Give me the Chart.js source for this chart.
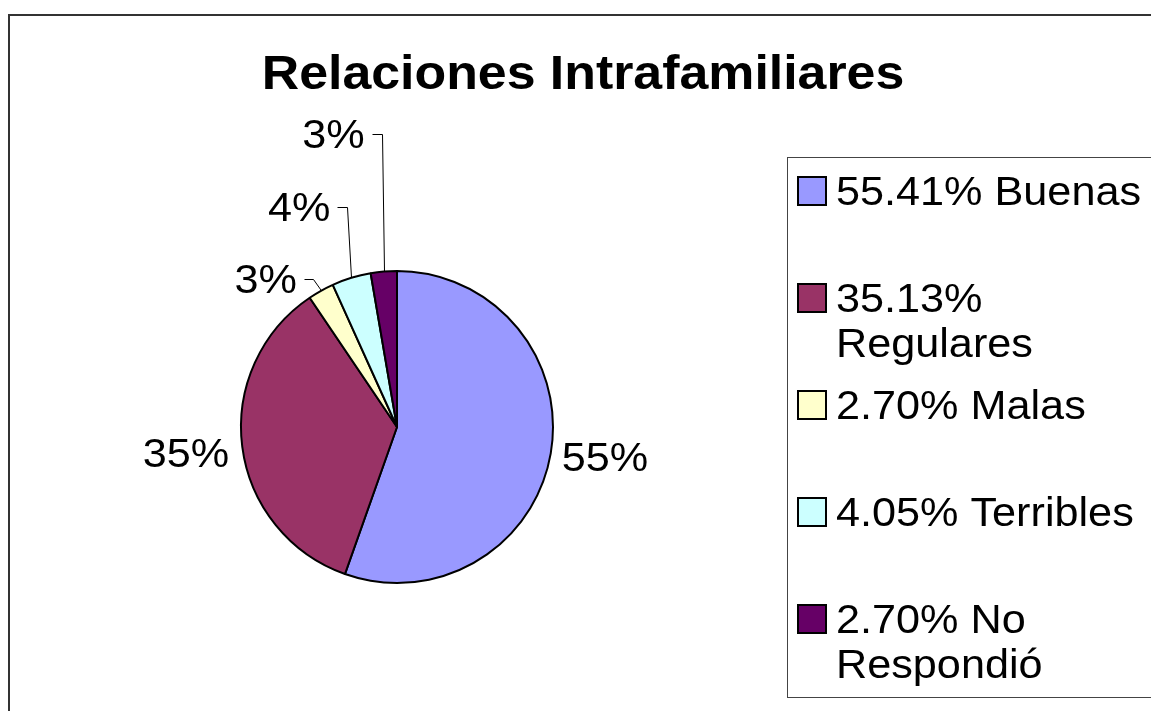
<!DOCTYPE html>
<html>
<head>
<meta charset="utf-8">
<script src="https://cdn.jsdelivr.net/npm/chart.js@4/dist/chart.umd.min.js"></script>
<style>
  html, body { margin: 0; padding: 0; background: #fff; }
  canvas { display: block; }
</style>
</head>
<body>
<canvas id="chart" width="1151" height="711"></canvas>
<script>
// data
var title = 'Relaciones Intrafamiliares';
var categories = ['Buenas', 'Regulares', 'Malas', 'Terribles', 'No Respondió'];
var percents = [55.41, 35.13, 2.70, 4.05, 2.70];
var sliceColors = ['#9999FF', '#993366', '#FFFFCC', '#CCFFFF', '#660066'];

var FONT = '"Liberation Sans", Arial, Helvetica, sans-serif';
var STRETCH = 1.08; // the original text is a bit wider than Arial

function stretchedText(ctx, txt, x, y, align) {
    ctx.save();
    ctx.translate(x, y);
    ctx.scale(STRETCH, 1);
    ctx.textAlign = align || 'left';
    ctx.textBaseline = 'alphabetic';
    ctx.fillText(txt, 0, 0);
    ctx.restore();
}

// frame, title, data labels and legend box (Excel style)
var excelDecor = {
    id: 'excelDecor',
    beforeDraw: function (chart) {
        var ctx = chart.ctx;
        ctx.save();
        ctx.fillStyle = '#fff';
        ctx.fillRect(0, 0, chart.width, chart.height);
        ctx.strokeStyle = '#333';
        ctx.lineWidth = 2;
        ctx.strokeRect(9, 15, 3000, 3000);
        ctx.restore();
    },
    afterDraw: function (chart) {
        var ctx = chart.ctx;
        ctx.save();

        // title
        ctx.fillStyle = '#000';
        ctx.font = 'bold 48px ' + FONT;
        stretchedText(ctx, title, 583, 89, 'center');

        // data labels
        var meta = chart.getDatasetMeta(0);
        var vals = chart.data.datasets[0].data;
        // per slice: plain offset, or leader line elbow offset
        var placement = [
            { dx: 11, dy: 18, align: 'left' },
            { dx: -13, dy: 20, align: 'right' },
            { ex: -8, ey: -12, run: 9, align: 'right' },
            { ex: -4, ey: -71, run: 10, align: 'right' },
            { ex: -2, ey: -138, run: 10, align: 'right' }
        ];
        ctx.font = '40px ' + FONT;
        meta.data.forEach(function (arc, i) {
            var a = (arc.startAngle + arc.endAngle) / 2;
            var px = arc.x + Math.cos(a) * arc.outerRadius;
            var py = arc.y + Math.sin(a) * arc.outerRadius;
            var txt = Math.round(vals[i]) + '%';
            var p = placement[i];
            ctx.fillStyle = '#000';
            if (p.ex === undefined) {
                stretchedText(ctx, txt, px + p.dx, py + p.dy, p.align);
            } else {
                var ex = px + p.ex, ey = py + p.ey;
                ctx.strokeStyle = '#000';
                ctx.lineWidth = 1;
                ctx.beginPath();
                ctx.moveTo(Math.round(px) + 0.5, py);
                ctx.lineTo(Math.round(ex) + 0.5, Math.round(ey) + 0.5);
                ctx.lineTo(Math.round(ex - p.run) + 0.5, Math.round(ey) + 0.5);
                ctx.stroke();
                stretchedText(ctx, txt, ex - p.run - 7, ey + 14, p.align);
            }
        });

        // legend box
        ctx.strokeStyle = '#444';
        ctx.lineWidth = 1;
        ctx.strokeRect(787.5, 157.5, 3000, 540);

        var maxW = 310;
        var labels = chart.data.labels;
        labels.forEach(function (lab, i) {
            var txt = vals[i].toFixed(2) + '% ' + lab;
            var words = txt.split(' ');
            var lines = [], cur = '';
            words.forEach(function (w) {
                var test = cur ? cur + ' ' + w : w;
                if (cur && ctx.measureText(test).width * STRETCH > maxW) {
                    lines.push(cur);
                    cur = w;
                } else {
                    cur = test;
                }
            });
            lines.push(cur);
            var base = 205 + i * 107;
            ctx.fillStyle = chart.data.datasets[0].backgroundColor[i];
            ctx.fillRect(798, base - 28, 28, 28);
            ctx.strokeStyle = '#000';
            ctx.lineWidth = 2;
            ctx.strokeRect(798, base - 28, 28, 28);
            ctx.fillStyle = '#000';
            lines.forEach(function (ln, j) {
                stretchedText(ctx, ln, 836, base + j * 45, 'left');
            });
        });
        ctx.restore();
    }
};

new Chart(document.getElementById('chart'), {
    type: 'pie',
    data: {
        labels: categories,
        datasets: [{
            data: percents,
            backgroundColor: sliceColors,
            borderColor: '#000',
            borderWidth: 2
        }]
    },
    options: {
        responsive: false,
        animation: false,
        layout: { padding: { left: 240, top: 270, right: 597, bottom: 127 } },
        plugins: {
            legend: { display: false },
            title: { display: false },
            tooltip: { enabled: false }
        }
    },
    plugins: [excelDecor]
});
</script>
</body>
</html>
